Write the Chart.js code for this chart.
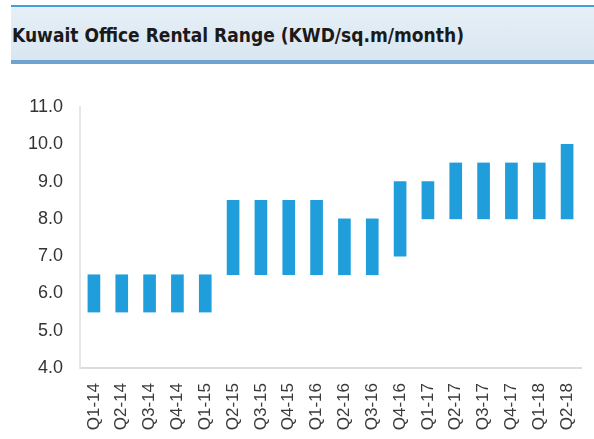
<!DOCTYPE html>
<html>
<head>
<meta charset="utf-8">
<script src="https://cdn.jsdelivr.net/npm/chart.js@4/dist/chart.umd.min.js"></script>
<style>
  html, body { margin: 0; padding: 0; background: #ffffff; }
  #wrap { position: relative; width: 594px; height: 439px; overflow: hidden; }
  #hdr {
    position: absolute; left: 11px; top: 5px; width: 583px; height: 53px;
    border-top: 2px solid #3f9de0;
    border-bottom: 4px solid #6ea3d0;
    background: linear-gradient(#e6eff7, #d9e6f1);
  }
  #hdr span {
    position: absolute; left: 1px; top: 17px;
    font-family: "DejaVu Sans Condensed", "Liberation Sans", sans-serif;
    font-weight: bold; font-size: 19px; color: #1a1a1a; white-space: nowrap;
  }
  canvas { position: absolute; left: 0; top: 0; }
</style>
</head>
<body>
<div id="wrap">
  <div id="hdr"><span>Kuwait Office Rental Range (KWD/sq.m/month)</span></div>
  <canvas id="c" width="594" height="439"></canvas>
</div>
<script>
const categories = ["Q1-14","Q2-14","Q3-14","Q4-14","Q1-15","Q2-15","Q3-15","Q4-15","Q1-16","Q2-16","Q3-16","Q4-16","Q1-17","Q2-17","Q3-17","Q4-17","Q1-18","Q2-18"];
const lowValues  = [5.5,5.5,5.5,5.5,5.5,6.5,6.5,6.5,6.5,6.5,6.5,7.0,8.0,8.0,8.0,8.0,8.0,8.0];
const highValues = [6.5,6.5,6.5,6.5,6.5,8.5,8.5,8.5,8.5,8.0,8.0,9.0,9.0,9.5,9.5,9.5,9.5,10.0];
const yMin = 4, yMax = 11, yStep = 1;

const rangeData = categories.map((c, i) => [lowValues[i], highValues[i]]);

new Chart(document.getElementById('c'), {
  type: 'bar',
  data: {
    labels: categories,
    datasets: [{
      data: rangeData,
      backgroundColor: '#1f9edb',
      borderWidth: 0,
      barThickness: 12,
      borderSkipped: false
    }]
  },
  options: {
    responsive: false,
    animation: false,
    layout: { padding: { top: 107, right: 13, left: 0, bottom: 0 } },
    plugins: { legend: { display: false }, tooltip: { enabled: false } },
    scales: {
      x: {
        grid: { display: false, drawTicks: false },
        border: { display: true, color: '#dcdcdc', width: 2 },
        ticks: {
          minRotation: 90, maxRotation: 90, autoSkip: false, padding: 15,
          color: '#3a3a3a',
          font: { family: 'Liberation Sans, Arial, sans-serif', size: 17 }
        },
        afterFit: (s) => { s.height = 71; s.paddingLeft = 0; s.paddingRight = 0; }
      },
      y: {
        min: yMin, max: yMax,
        grid: { display: false, drawTicks: false },
        border: { display: true, color: '#e6e6e6', width: 2 },
        ticks: {
          stepSize: yStep, padding: 17,
          color: '#333333',
          font: { family: 'Liberation Sans, Arial, sans-serif', size: 18 },
          callback: (v) => Number(v).toFixed(1)
        },
        afterFit: (s) => { s.width = 80; }
      }
    }
  }
});
</script>
</body>
</html>
